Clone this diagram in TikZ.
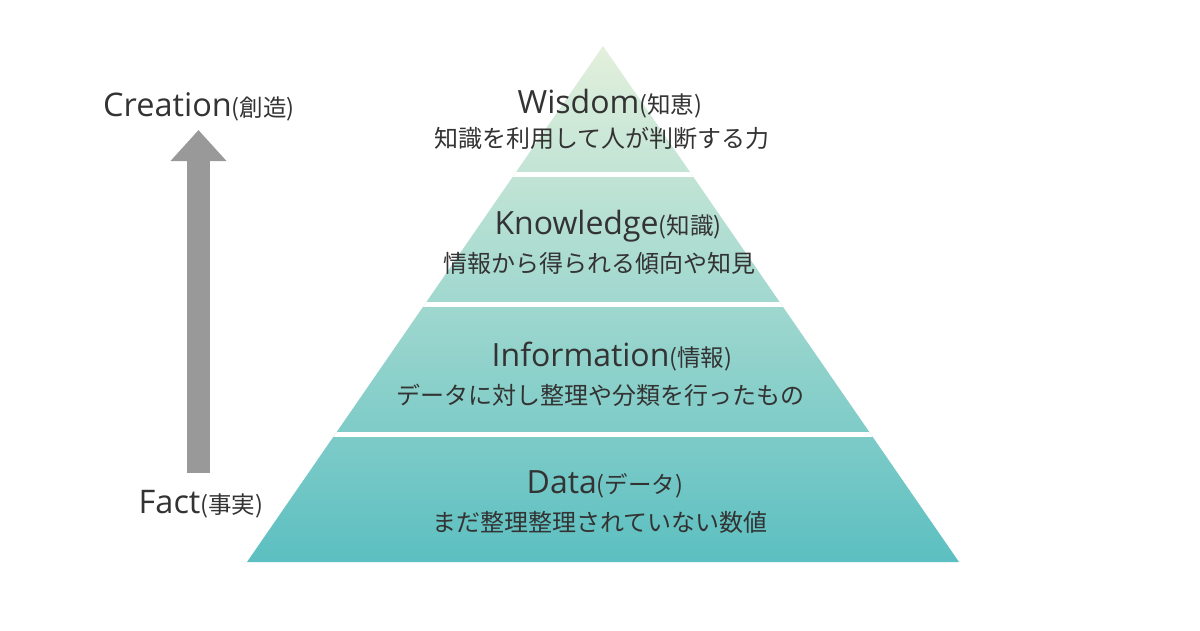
\documentclass[tikz,border=0pt]{standalone}
\usepackage{fontspec}
\setmainfont{Open Sans}
\newfontfamily\jp{Noto Sans CJK JP}
\usetikzlibrary{arrows.meta}
\definecolor{txt}{HTML}{333333}
\definecolor{topc}{HTML}{E3F0DC}
\definecolor{midc}{HTML}{A9D9CF}
\definecolor{botc}{HTML}{5CBFC1}
\definecolor{arrowc}{HTML}{999999}
\tikzset{
  ttl/.style={anchor=base, inner sep=0pt, text=txt, font=\fontsize{32}{32}\selectfont},
  sub/.style={anchor=base, inner sep=0pt, text=txt, font=\jp\fontsize{24}{24}\selectfont},
  side/.style={anchor=base, inner sep=0pt, text=txt, font=\fontsize{32.5}{32}\selectfont},
}
\newcommand{\jpp}[1]{{\jp\fontsize{23.5}{24}\selectfont #1}}
\begin{document}
\begin{tikzpicture}[x=1pt,y=-1pt]
\useasboundingbox (0,0) rectangle (1200,630);
\fill[white] (0,0) rectangle (1200,630);
% pyramid
\coordinate (apex) at (603,46);
\coordinate (bl) at (247,562);
\coordinate (br) at (959,562);
\shade[top color=topc, middle color=midc, bottom color=botc] (apex) -- (br) -- (bl) -- cycle;
\begin{scope}
  \clip (apex) -- (br) -- (bl) -- cycle;
  \fill[white] (200,172) rectangle (1000,177);
  \fill[white] (200,302) rectangle (1000,307);
  \fill[white] (200,432) rectangle (1000,437);
\end{scope}
% layer texts
\node[ttl] (wt) at (610,113) {Wisdom\jpp{(知恵)}};
\node[sub] (ws) at (602,147) {知識を利用して人が判断する力};
\node[ttl] (kt) at (608,234) {Knowledge\jpp{(知識)}};
\node[sub] (ks) at (599,272) {情報から得られる傾向や知見};
\node[ttl] (it) at (612,366) {Information\jpp{(情報)}};
\node[sub] (is) at (600,404) {データに対し整理や分類を行ったもの};
\node[ttl] (dt) at (605,493) {Data\jpp{(データ)}};
\node[sub] (ds) at (600,531) {まだ整理整理されていない数値};
% side
\node[side] (creation) at (199,116) {Creation\jpp{(創造)}};
\node[side] (fact) at (201,513) {Fact\jpp{(事実)}};
\coordinate (abot) at (198.5,473);
\coordinate (atop) at (198.5,130);
\draw[arrowc, line width=23pt, -{Triangle[width=54pt,length=31pt]}] (abot) -- (atop);
\end{tikzpicture}
\end{document}
